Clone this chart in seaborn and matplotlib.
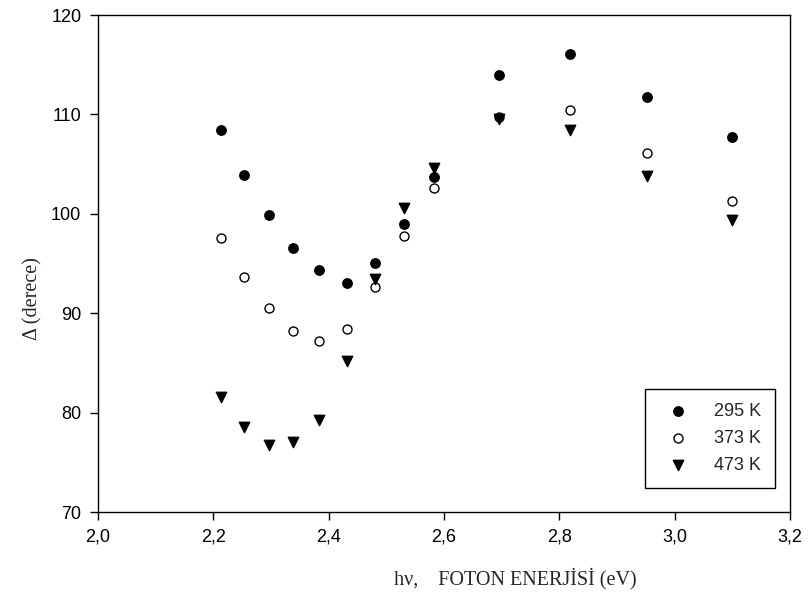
import matplotlib
matplotlib.use("Agg")
import matplotlib.pyplot as plt
import seaborn as sns
import pandas as pd

# photon energies (eV)
energy = [2.214, 2.254, 2.296, 2.339, 2.384, 2.431, 2.480, 2.530, 2.583,
          2.695, 2.818, 2.952, 3.100]
delta_295 = [108.4, 103.9, 99.9, 96.6, 94.3, 93.0, 95.1, 99.0, 103.7,
             114.0, 116.1, 111.8, 107.7]
delta_373 = [97.6, 93.6, 90.5, 88.2, 87.2, 88.4, 92.6, 97.8, 102.6,
             109.7, 110.4, 106.1, 101.3]
delta_473 = [81.6, 78.6, 76.7, 77.0, 79.3, 85.2, 93.4, 100.6, 104.6,
             109.5, 108.4, 103.8, 99.4]
labels = ["295 K", "373 K", "473 K"]
xticks = [2.0, 2.2, 2.4, 2.6, 2.8, 3.0, 3.2]
xticklabels = ["2,0", "2,2", "2,4", "2,6", "2,8", "3,0", "3,2"]
yticks = [70, 80, 90, 100, 110, 120]

sns.set_style("ticks")
plt.rcParams['font.family'] = ['Liberation Sans', 'DejaVu Sans']

fig = plt.figure(figsize=(8.08, 5.98), dpi=100)
ax = fig.add_axes([98/808, 1 - 512/598, 692/808, 497/598])

series = [delta_295, delta_373, delta_473]
styles = [dict(marker="o", facecolor="black", s=46),
          dict(marker="o", facecolor="white", s=42),
          dict(marker="v", facecolor="black", s=56)]
for vals, lab, st in zip(series, labels, styles):
    df = pd.DataFrame({"x": energy, "y": vals})
    sns.scatterplot(data=df, x="x", y="y", ax=ax, marker=st["marker"],
                    s=st["s"], facecolor=st["facecolor"], edgecolor="black",
                    linewidth=1.0, label=lab, zorder=3)

ax.set_xlim(2.0, 3.2)
ax.set_ylim(70, 120)
ax.set_xticks(xticks)
ax.set_xticklabels(xticklabels)
ax.set_yticks(yticks)
ax.tick_params(axis="both", direction="out", length=6, width=1,
               labelsize=13, colors="black", pad=6)
ax.tick_params(top=False, right=False)
for sp in ax.spines.values():
    sp.set_visible(True)
    sp.set_color("black")
    sp.set_linewidth(1.0)

ax.set_xlabel("h\u03bd,    FOTON ENERJİSİ (eV)", fontsize=14.5,
              family=["Liberation Serif", "DejaVu Serif"])
ax.xaxis.set_label_coords(0.603, -0.112)
ax.set_ylabel("\u0394 (derece)", fontsize=14.5,
              family=["Liberation Serif", "DejaVu Serif"])
ax.yaxis.set_label_coords(-0.08, 0.43)

leg = ax.legend(loc="lower right", bbox_to_anchor=(0.978, 0.048),
                borderaxespad=0, fontsize=13, frameon=True, fancybox=False,
                edgecolor="black", framealpha=1, handlelength=2.1,
                handletextpad=0.9, borderpad=0.78, labelspacing=0.56)
leg.get_frame().set_linewidth(1.0)

fig.savefig("out.png", dpi=100)
